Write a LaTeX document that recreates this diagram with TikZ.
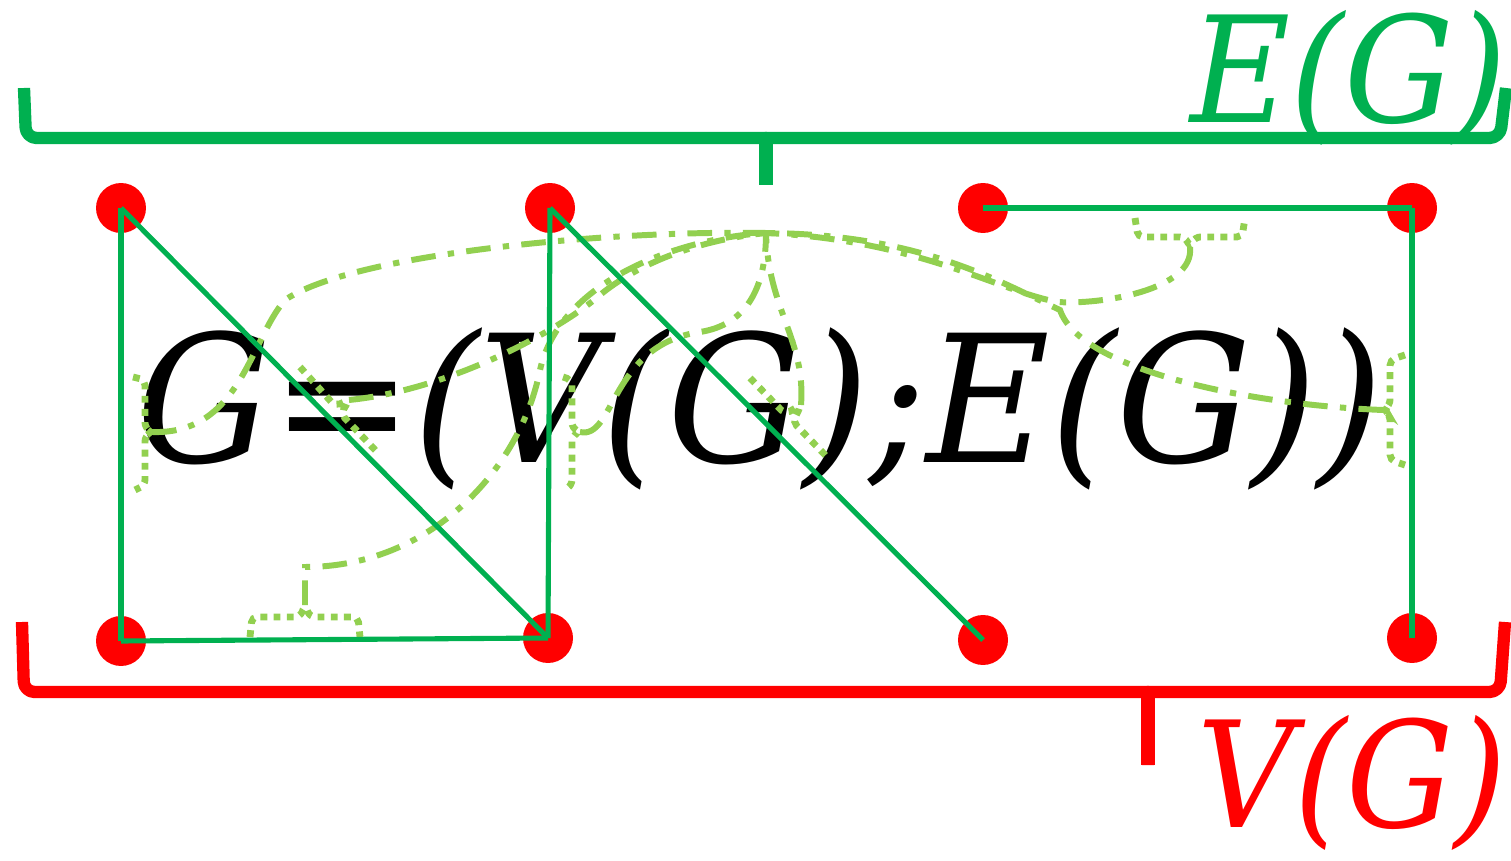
\documentclass[tikz,border=0pt]{standalone}
\usepackage{fontspec}
\setmainfont{DejaVu Serif}
\usepackage{graphicx}
\usepackage{tikz}
\usetikzlibrary{arrows.meta,positioning}
\definecolor{vertexred}{RGB}{255,0,0}
\definecolor{edgegreen}{RGB}{0,176,80}
\definecolor{linkgreen}{RGB}{146,208,80}
\tikzset{
  vertex/.style={circle,fill=vertexred,minimum size=1cm,inner sep=0pt},
  edgeline/.style={line width=2.9pt,draw=edgegreen},
  edgebrack/.style={line width=3.9pt,draw=linkgreen,dash pattern=on 3.9pt off 3.6pt,rounded corners=3pt},
  edgelink/.style={line width=3.4pt,draw=linkgreen,dash pattern=on 14pt off 7pt on 3.6pt off 7pt},
  setbrace/.style={line width=7pt,line join=round,rounded corners=6pt},
  bracetip/.style={line width=8.5pt},
  setlabel/.style={font=\fontsize{84}{84}\selectfont\itshape,inner sep=0pt},
  eqnlabel/.style={font=\fontsize{101}{101}\selectfont\itshape,inner sep=0pt}
}

\begin{document}
\begin{tikzpicture}[x=0.02cm,y=-0.02cm]
  \useasboundingbox (0,0) rectangle (1511,861);
  \node[eqnlabel,anchor=base] (eqn) at (760,462) {\scalebox{0.955}[1]{G=(V(G);E(G))}};

  \coordinate (hub) at (766,233);
  \coordinate (t15) at (152,432);
  \coordinate (t26) at (580,432);
  \coordinate (t56) at (305,605);
  \coordinate (t34) at (1190,247);
  \coordinate (t48) at (1383,410);
  \coordinate (t16) at (349,400);
  \coordinate (t27) at (801,405);

  \draw[edgebrack] (133,377) -- (145,380) -- (145,428) -- (t15) -- (145,436) -- (145,485) -- (135,490);
  \draw[edgebrack] (563,377) -- (572,380) -- (572,428) -- (t26) -- (572,436) -- (572,485) -- (565,490);
  \draw[edgebrack] (250,637) -- (252,617) -- (300,617) -- (t56) -- (310,617) -- (358,617) -- (360,637);
  \draw[edgebrack] (1135,218) -- (1138,237) -- (1185,237) -- (t34) -- (1195,237) -- (1242,237) -- (1245,218);
  \draw[edgebrack] (1405,355) -- (1390,360) -- (1390,405) -- (t48) -- (1390,415) -- (1390,460) -- (1405,465);
  \draw[edgebrack] (300,367) -- (335,406) -- (t16) -- (341,414) -- (377,452);
  \draw[edgebrack] (750,378) -- (785,414) -- (t27) -- (793,422) -- (828,458);

  \draw[edgelink] (t15) .. controls (240,435) and (250,340) .. (285,300) .. controls (350,255) and (600,230) .. (hub);
  \draw[edgelink] (t56) -- (305,567) .. controls (430,567) and (520,470) .. (540,370) .. controls (560,280) and (680,238) .. (hub);
  \draw[edgelink] (t16) .. controls (450,390) and (560,330) .. (600,295) .. controls (640,262) and (700,240) .. (hub);
  \draw[edgelink] (t26) .. controls (615,440) and (610,345) .. (700,332) .. controls (745,325) and (766,290) .. (hub);
  \draw[edgelink] (t27) .. controls (806,340) and (768,310) .. (hub);
  \draw[edgelink] (t34) .. controls (1195,290) and (1100,305) .. (1058,302) .. controls (1000,292) and (920,240) .. (hub);
  \draw[edgelink] (t48) .. controls (1250,405) and (1080,370) .. (1060,310) .. controls (1000,282) and (920,234) .. (hub);

  \node[vertex] (v1) at (121,208) {};
  \node[vertex] (v2) at (550,208) {};
  \node[vertex] (v3) at (983,208) {};
  \node[vertex] (v4) at (1412,208) {};
  \node[vertex] (v5) at (121,641) {};
  \node[vertex] (v6) at (548,638) {};
  \node[vertex] (v7) at (983,640) {};
  \node[vertex] (v8) at (1412,638) {};

  \draw[edgeline] (v1.center) -- (v5.center);
  \draw[edgeline] (v1.center) -- (v6.center);
  \draw[edgeline] (v2.center) -- (v6.center);
  \draw[edgeline] (v5.center) -- (v6.center);
  \draw[edgeline] (v2.center) -- (v7.center);
  \draw[edgeline] (v3.center) -- (v4.center);
  \draw[edgeline] (v4.center) -- (v8.center);

  \draw[setbrace,draw=edgegreen] (24,88) -- (26,138) -- (756,138) .. controls (764,138) and (766,142) .. (766,150) -- (766,185);
  \draw[setbrace,draw=edgegreen] (766,150) .. controls (766,142) and (768,138) .. (776,138) -- (1500,138) -- (1506,88);
  \draw[bracetip,draw=edgegreen] (766,140) -- (766,185);
  \draw[setbrace,draw=vertexred] (22,622) -- (24,692) -- (1138,692) .. controls (1146,692) and (1148,698) .. (1148,706) -- (1148,765);
  \draw[setbrace,draw=vertexred] (1148,706) .. controls (1148,698) and (1150,692) .. (1158,692) -- (1500,692) -- (1505,622);
  \draw[bracetip,draw=vertexred] (1148,694) -- (1148,765);

  \node[setlabel,text=edgegreen,anchor=base west] (elabel) at (1190,123) {\scalebox{0.93}[1]{E(G)}};
  \node[setlabel,text=vertexred,anchor=base west] (vlabel) at (1197,827) {\scalebox{0.91}[1]{V(G)}};
\end{tikzpicture}
\end{document}
